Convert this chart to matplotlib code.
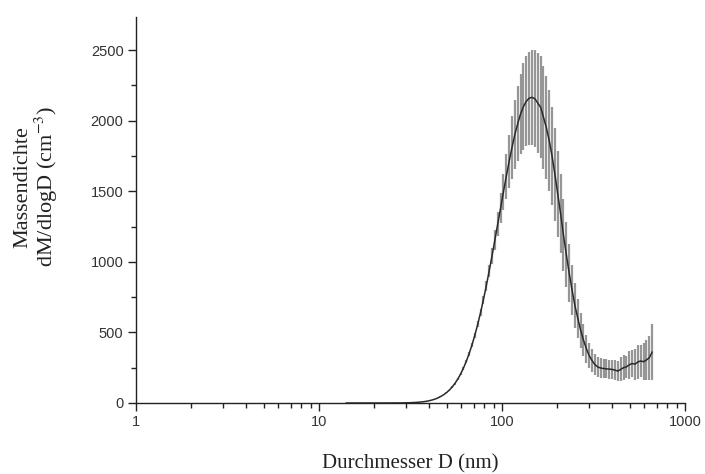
import matplotlib
matplotlib.use("Agg")
import matplotlib.pyplot as plt
from matplotlib.ticker import LogLocator, MultipleLocator, FixedLocator, NullFormatter

# Diameter bins (nm), 64 channels per decade
diameter = [14.1, 14.6, 15.1, 15.7, 16.3, 16.8, 17.5, 18.1, 18.8, 19.5,
            20.2, 20.9, 21.7, 22.5, 23.3, 24.1, 25.0, 25.9, 26.9, 27.9,
            28.9, 30.0, 31.1, 32.2, 33.4, 34.6, 35.9, 37.2, 38.5, 40.0,
            41.4, 42.9, 44.5, 46.1, 47.8, 49.6, 51.4, 53.3, 55.2, 57.3,
            59.4, 61.5, 63.8, 66.1, 68.5, 71.0, 73.7, 76.4, 79.1, 82.0,
            85.1, 88.2, 91.4, 94.7, 98.2, 101.8, 105.5, 109.4, 113.4, 117.6,
            121.9, 126.3, 131.0, 135.8, 140.7, 145.9, 151.2, 156.8, 162.5, 168.5,
            174.7, 181.1, 187.7, 194.6, 201.7, 209.1, 216.7, 224.7, 232.9, 241.4,
            250.3, 259.5, 269.0, 278.8, 289.0, 299.6, 310.6, 322.0, 333.8, 346.0,
            358.7, 371.8, 385.4, 399.5, 414.2, 429.4, 445.1, 461.4, 478.3, 495.8,
            514.0, 532.8, 552.3, 572.5, 593.5, 615.3, 637.8, 661.2]

# Mean mass density dM/dlogD
mass = [0, 0, 0, 0, 0, 0, 0, 0, 0, 0,
        0, 0, 0, 0, 0.1, 0.1, 0.2, 0.3, 0.4, 0.6,
        1.0, 1.4, 1.9, 2.7, 3.7, 5.0, 6.8, 9.1, 11.9, 16,
        21, 27, 35, 45, 57, 72, 90, 112, 137, 169,
        205, 246, 295, 349, 410, 479, 558, 642, 730, 827,
        935, 1042, 1154, 1265, 1380, 1494, 1605, 1711, 1810, 1903,
        1979, 2047, 2100, 2137, 2159, 2165, 2155, 2125, 2095, 2025,
        1950, 1860, 1750, 1620, 1480, 1340, 1190, 1050, 920, 800,
        690, 600, 515, 445, 385, 335, 300, 272, 255, 248,
        244, 242, 240, 238, 233, 226, 238, 250, 256, 270,
        280, 275, 290, 298, 292, 305, 320, 360]

# Standard deviation
error = [0, 0, 0, 0, 0, 0, 0, 0, 0, 0,
         0, 0, 0, 0, 0, 0, 0, 0, 0, 0,
         0.1, 0.1, 0.1, 0.1, 0.2, 0.2, 0.3, 0.4, 0.5, 0.6,
         0.8, 1, 1.2, 1.5, 2, 3, 4, 5, 6, 7,
         8, 10, 12, 14, 16, 19, 22, 26, 31, 37,
         45, 55, 68, 85, 105, 130, 160, 190, 220, 245,
         265, 285, 305, 320, 330, 335, 345, 355, 360, 365,
         365, 360, 345, 330, 305, 280, 255, 230, 205, 180,
         160, 140, 125, 112, 100, 90, 82, 76, 72, 70,
         70, 68, 68, 70, 72, 70, 85, 90, 80, 100,
         95, 110, 120, 115, 130, 140, 155, 200]

xticks = [1, 10, 100, 1000]
xticklabels = ["1", "10", "100", "1000"]
yticks = [0, 500, 1000, 1500, 2000, 2500]

plt.rcParams['mathtext.fontset'] = 'stix'

fig = plt.figure(figsize=(7.05, 4.74), dpi=100)
ax = fig.add_axes([136/705, 71/474, (685-136)/705, (403-17)/474])

ax.errorbar(diameter, mass, yerr=error, fmt='none', ecolor='#969696',
            elinewidth=1.6, capsize=0, zorder=2)
ax.plot(diameter, mass, color='#2a2a2a', lw=1.1, zorder=3)

ax.set_xscale('log')
ax.set_xlim(1, 1000)
ax.set_ylim(0, 2734)

ax.xaxis.set_major_locator(FixedLocator(xticks))
ax.set_xticklabels(xticklabels)
ax.xaxis.set_minor_locator(LogLocator(base=10, subs=range(2, 10)))
ax.xaxis.set_minor_formatter(NullFormatter())
ax.yaxis.set_major_locator(FixedLocator(yticks))
ax.set_yticklabels([str(v) for v in yticks])
ax.yaxis.set_minor_locator(MultipleLocator(250))

for s in ['top', 'right']:
    ax.spines[s].set_visible(False)
for s in ['left', 'bottom']:
    ax.spines[s].set_linewidth(1.0)
    ax.spines[s].set_color('#222222')

ax.tick_params(which='major', direction='out', length=6, width=1.0,
               color='#222222', labelsize=10.5, labelcolor='#333333', pad=3)
ax.tick_params(which='minor', direction='out', length=3.5, width=1.0, color='#222222')
for lab in ax.get_xticklabels() + ax.get_yticklabels():
    lab.set_fontfamily(['Liberation Sans', 'DejaVu Sans'])

ax.set_xlabel('Durchmesser D (nm)', fontsize=15, family=['Liberation Serif', 'DejaVu Serif'],
              color='#222222')
ax.xaxis.set_label_coords(0.5, -0.132)
ax.set_ylabel('Massendichte\ndM/dlogD (cm$^{-3}$)', fontsize=16,
              family=['Liberation Serif', 'DejaVu Serif'], color='#222222',
              multialignment='center', linespacing=1.05)
ax.yaxis.set_label_coords(-0.138, 0.56)

fig.savefig('out.png', dpi=100)
